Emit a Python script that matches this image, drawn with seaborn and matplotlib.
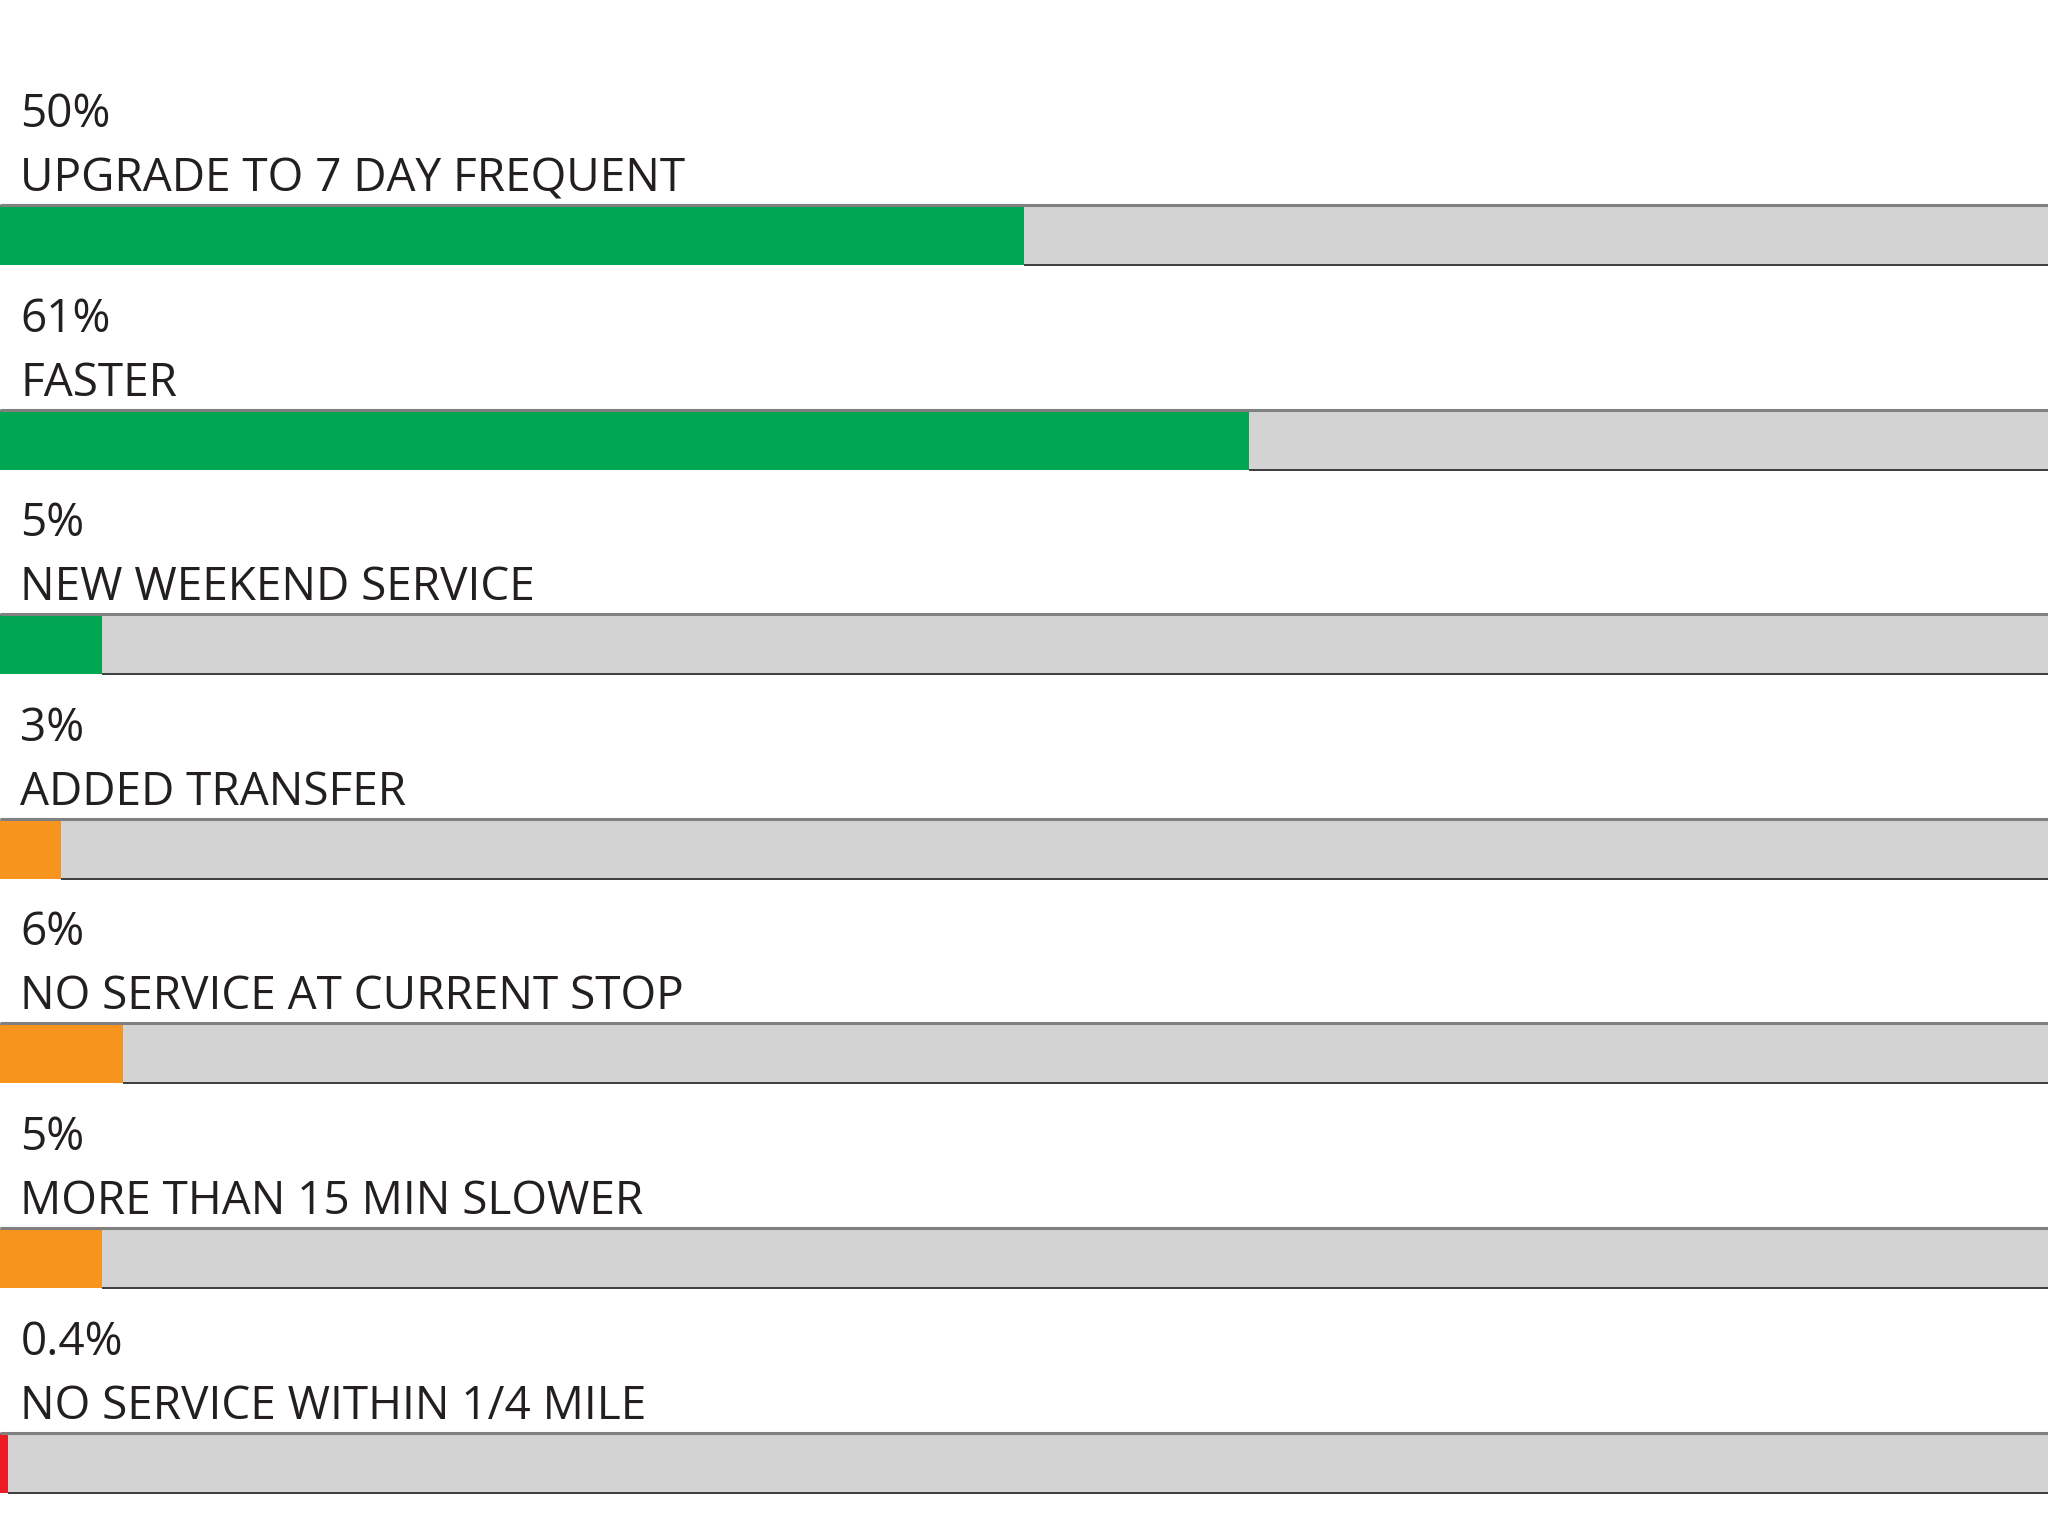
import numpy as np
import pandas as pd
import matplotlib
matplotlib.use('Agg')
import matplotlib.pyplot as plt
import seaborn as sns

# data
categories = ['UPGRADE TO 7 DAY FREQUENT', 'FASTER', 'NEW WEEKEND SERVICE',
              'ADDED TRANSFER', 'NO SERVICE AT CURRENT STOP',
              'MORE THAN 15 MIN SLOWER', 'NO SERVICE WITHIN 1/4 MILE']
values = [50, 61, 5, 3, 6, 5, 0.4]
pct_labels = ['50%', '61%', '5%', '3%', '6%', '5%', '0.4%']
bar_colors = ['#00a651', '#00a651', '#00a651',
              '#f7941d', '#f7941d', '#f7941d', '#ed1c24']
totals = [100] * len(categories)

df = pd.DataFrame({'cat': categories, 'val': values, 'total': totals})

sns.set_style('white')
plt.rcParams['font.family'] = ['Open Sans', 'DejaVu Sans']

fig = plt.figure(figsize=(20.48, 15.36), dpi=100)
ax = fig.add_axes([0, 0, 1, 1])

W = 0.293
sns.barplot(data=df, x='total', y='cat', color='#d3d3d3', width=W,
            orient='h', ax=ax, saturation=1, linewidth=0)
sns.barplot(data=df, x='val', y='cat', hue='cat', palette=bar_colors,
            width=W, orient='h', ax=ax, saturation=1, legend=False,
            linewidth=0)

for i, (v, lab, cat) in enumerate(zip(values, pct_labels, categories)):
    ax.hlines(i - W / 2, 0, 100, color='#808080', lw=2.2, zorder=5)
    ax.hlines(i + W / 2, v, 100, color='#3c3c3c', lw=1.4, zorder=5)
    ax.text(1.0, i - 0.528, lab, fontsize=33, color='#231f20',
            va='baseline', ha='left')
    ax.text(1.0, i - 0.215, cat, fontsize=33, color='#231f20',
            va='baseline', ha='left')

ax.set_xlim(0, 100)
ax.set_ylim(6.359, -1.149)
ax.axis('off')

plt.savefig('out.png', dpi=100)
plt.close()
